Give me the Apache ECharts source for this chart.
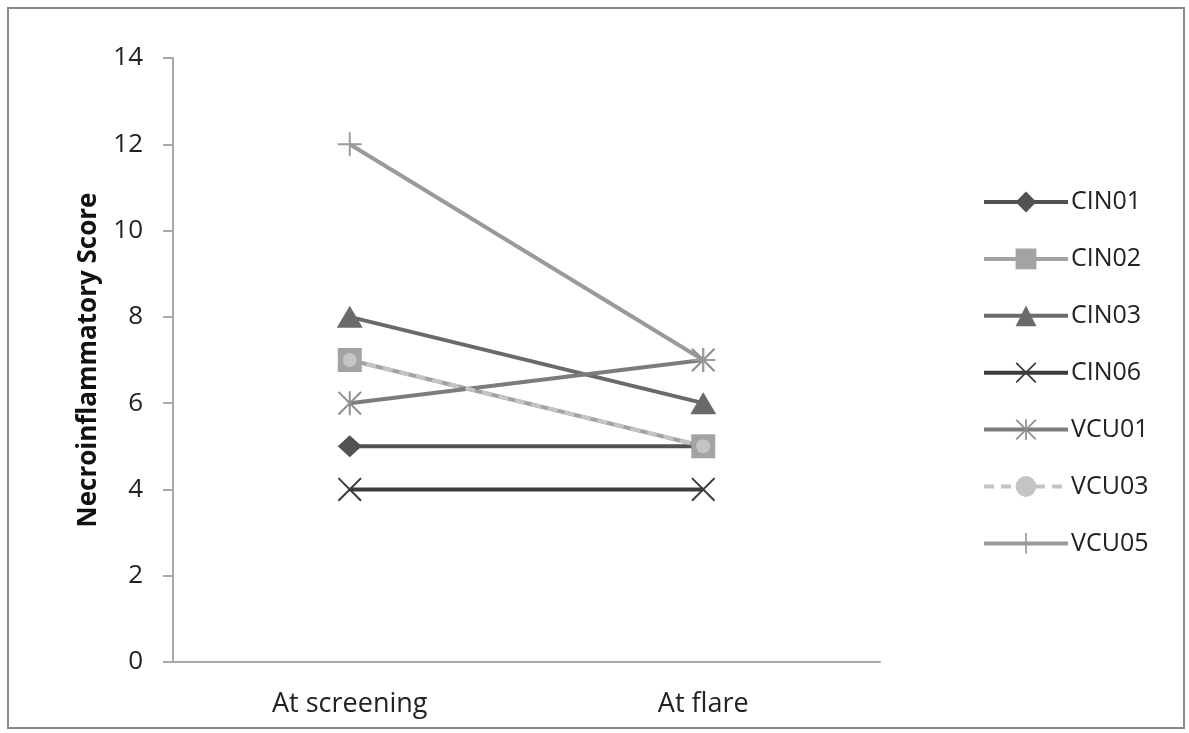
<!DOCTYPE html>
<html>
<head>
<meta charset="utf-8">
<script src="https://cdn.jsdelivr.net/npm/echarts@6/dist/echarts.min.js"></script>
<style>
html,body{margin:0;padding:0;background:#fff;}
#frame{position:absolute;left:7px;top:7px;width:1178px;height:722px;border:2px solid #8a8a8a;box-sizing:border-box;}
#chart{position:absolute;left:0;top:0;width:1189px;height:733px;}
</style>
</head>
<body>
<div id="frame"></div>
<div id="chart"></div>
<script>
var categories = ['At screening', 'At flare'];
var yTicks = [0, 2, 4, 6, 8, 10, 12, 14];
var seriesNames = ['CIN01', 'CIN02', 'CIN03', 'CIN06', 'VCU01', 'VCU03', 'VCU05'];
var CIN01 = [5, 5];
var CIN02 = [7, 5];
var CIN03 = [8, 6];
var CIN06 = [4, 4];
var VCU01 = [6, 7];
var VCU03 = [7, 5];
var VCU05 = [12, 7];

var symX = 'path://M0,6 L6,0 L100,94 L94,100 Z M94,0 L100,6 L6,100 L0,94 Z';
var symStar = 'path://M0,6 L6,0 L100,94 L94,100 Z M94,0 L100,6 L6,100 L0,94 Z M46,0 L54,0 L54,100 L46,100 Z';
var symPlus = 'path://M0,46 L100,46 L100,54 L0,54 Z M46,0 L54,0 L54,100 L46,100 Z';

var FONT = '"Open Sans"';

var styles = [
  {data: CIN01, color: '#525252', sym: 'diamond', size: [24, 22], type: 'solid'},
  {data: CIN02, color: '#a3a3a3', sym: 'rect', size: 24, type: 'solid'},
  {data: CIN03, color: '#6a6a6a', sym: 'triangle', size: [26, 22], type: 'solid'},
  {data: CIN06, color: '#3c3c3c', sym: symX, size: 24, type: 'solid'},
  {data: VCU01, color: '#7c7c7c', sym: symStar, size: 24, type: 'solid', mcolor: '#8e8e8e'},
  {data: VCU03, color: '#c4c4c4', sym: 'circle', size: 14, type: [10, 7]},
  {data: VCU05, color: '#9a9a9a', sym: symPlus, size: 24, type: 'solid'}
];

var series = seriesNames.map(function (n, i) {
  var s = styles[i];
  return {
    name: n,
    type: 'line',
    data: s.data,
    symbol: s.sym,
    symbolSize: s.size,
    showAllSymbol: true,
    lineStyle: {color: s.color, width: 4, type: s.type},
    itemStyle: {color: s.mcolor || s.color},
    emphasis: {disabled: true},
    animation: false
  };
});

var chart = echarts.init(document.getElementById('chart'), null, {renderer: 'canvas'});
chart.setOption({
  backgroundColor: 'transparent',
  animation: false,
  grid: {left: 173, right: 309, top: 58, bottom: 71, containLabel: false},
  xAxis: {
    type: 'category',
    data: categories,
    boundaryGap: true,
    axisLine: {lineStyle: {color: '#a8a8a8', width: 2}},
    axisTick: {show: false},
    axisLabel: {fontFamily: FONT, fontSize: 27, color: '#222', margin: 29}
  },
  yAxis: {
    type: 'value',
    min: 0, max: 14, interval: 2,
    name: 'Necroinflammatory Score',
    nameLocation: 'middle',
    nameGap: 71,
    nameTextStyle: {fontFamily: FONT, fontWeight: 'bold', fontSize: 26, color: '#111'},
    axisLine: {show: true, lineStyle: {color: '#a8a8a8', width: 2}},
    axisTick: {show: true, length: 10, lineStyle: {color: '#a8a8a8', width: 2}},
    splitLine: {show: false},
    axisLabel: {fontFamily: FONT, fontSize: 26, color: '#222', margin: 30,
      formatter: function (v) { return yTicks.indexOf(v) >= 0 ? String(v) : ''; }}
  },
  legend: {
    orient: 'vertical',
    left: 977, top: 184,
    itemWidth: 84, itemHeight: 26,
    itemGap: 30.9,
    lineStyle: {width: 4},
    textStyle: {fontFamily: FONT, fontSize: 25, lineHeight: 26, color: '#222', padding: [0, 0, 0, -2]},
    selectedMode: false,
    data: seriesNames
  },
  series: series
});
</script>
</body>
</html>
